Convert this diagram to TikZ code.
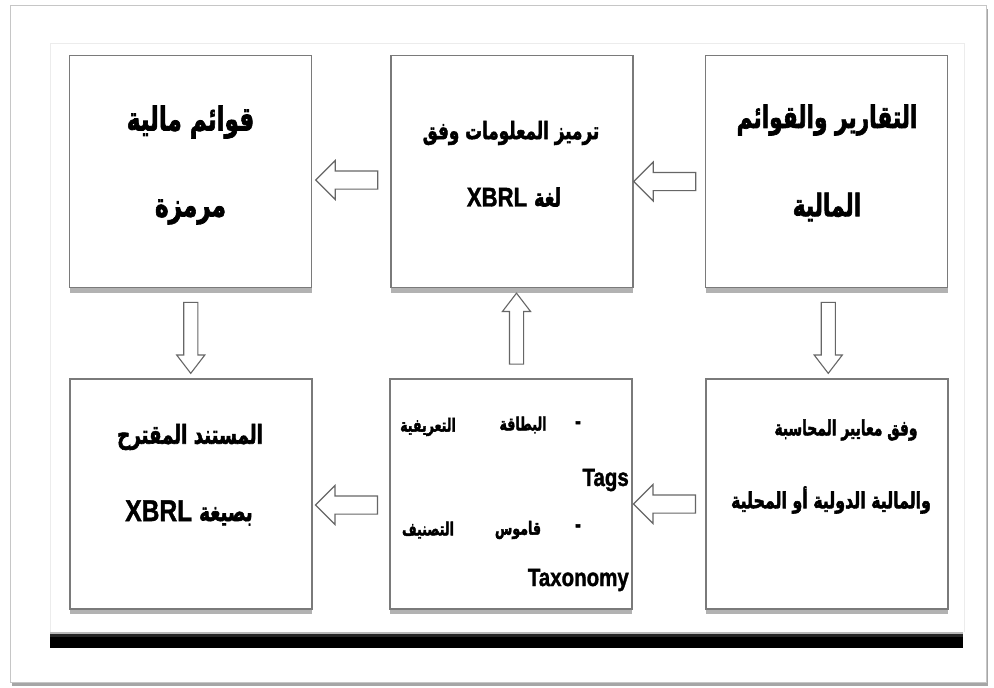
\documentclass[tikz,border=0pt]{standalone}
\usepackage{fontspec}
\usepackage{graphicx}
\usetikzlibrary{shapes.arrows,shadows,calc}
\TeXXeTstate=1
\newfontfamily\arabicfont[Script=Arabic, BoldFeatures={FakeBold=2.5}]{DejaVu Sans}
\newfontfamily\latinfont[BoldFeatures={FakeBold=1.5}]{Liberation Sans}
% \artext{size}{xscale}{text}
\newcommand{\artext}[3]{\scalebox{#2}[1]{\fontsize{#1}{#1}\arabicfont\bfseries #3}}
\newcommand{\xbrl}[1]{\scalebox{0.82}[1]{\latinfont\bfseries\fontsize{#1}{#1}\selectfont XBRL}}
\newcommand{\lat}[2]{\scalebox{0.82}[1]{\latinfont\bfseries\fontsize{#1}{#1}\selectfont #2}}
\definecolor{boxgray}{HTML}{7A7A7A}
\definecolor{arrowgray}{HTML}{666666}
\tikzset{
  frame/.style={draw=gray!45, line width=0.8pt, fill=white, inner sep=0pt,
    drop shadow={shadow xshift=2pt, shadow yshift=-3pt, opacity=0.35, fill=black}},
  box/.style={draw=boxgray, line width=1.4pt, fill=white, inner sep=0pt,
    minimum width=242pt, minimum height=232pt,
    drop shadow={shadow xshift=0pt, shadow yshift=-5pt, opacity=0.3, fill=black}},
  harrow/.style={single arrow, draw=arrowgray, line width=1.1pt, fill=white,
    inner sep=8.5pt, minimum height=62pt,
    single arrow head extend=10.5pt, single arrow tip angle=90},
  varrow/.style={single arrow, draw=arrowgray, line width=1.1pt, fill=white,
    inner sep=6.5pt, minimum height=71pt,
    single arrow head extend=7pt, single arrow tip angle=75},
  txt/.style={inner sep=0pt}
}
\begin{document}
\begin{tikzpicture}[x=1pt,y=-1pt]
\useasboundingbox (0,0) rectangle (994,688);
\fill[white] (0,0) rectangle (994,688);
% outer frame
\node[frame, minimum width=976pt, minimum height=677pt] (outer) at (498,344) {};
% faint inner frame
\draw[gray!15, line width=0.8pt] (50,632) -- (50,43) -- (964,43) -- (964,632);
% boxes
\node[box] (tl) at (190.5,171.5) {};
\node[box] (tm) at (512,171.5) {};
\node[box] (tr) at (826.5,171.5) {};
\node[box, minimum height=230pt] (bl) at (191,494) {};
\node[box, minimum height=230pt] (bm) at (511,494) {};
\node[box, minimum height=230pt] (br) at (827,494) {};
% block arrows
\node[harrow, shape border rotate=180, yshift=-8.5pt] (a1) at ($(tl.east)!0.5!(tm.west)$) {};
\node[harrow, shape border rotate=180, yshift=-10pt] (a2) at ($(tm.east)!0.5!(tr.west)$) {};
\node[harrow, shape border rotate=180, yshift=-11pt] (a3) at ($(bl.east)!0.5!(bm.west)$) {};
\node[harrow, shape border rotate=180, yshift=-10pt] (a4) at ($(bm.east)!0.5!(br.west)$) {};
\node[varrow, shape border rotate=270] (a5) at ($(tl.south)!0.5!(bl.north)$) {};
\node[varrow, shape border rotate=90, xshift=5pt] (a6) at ($(bm.north)!0.5!(tm.south)$) {};
\node[varrow, shape border rotate=270, xshift=1.5pt] (a7) at ($(tr.south)!0.5!(br.north)$) {};
% texts top row
\node[txt] (tl1) at (190.5,122) {\artext{33}{0.7}{\beginR قوائم مالية\endR}};
\node[txt] (tl2) at (190.5,212) {\artext{33}{0.7}{\beginR مرمزة\endR}};
\node[txt] (tm1) at (511,133) {\artext{24}{0.7}{\beginR ترميز المعلومات وفق\endR}};
\node[txt] (tm2) at (514,197) {\xbrl{27}\hspace{7pt}\artext{25}{0.7}{\beginR لغة\endR}};
\node[txt] (tr1) at (827,120) {\artext{31}{0.7}{\beginR التقارير والقوائم\endR}};
\node[txt] (tr2) at (827,207) {\artext{31}{0.7}{\beginR المالية\endR}};
% texts bottom row
\node[txt] (br1) at (846,430) {\artext{21}{0.66}{\beginR وفق معايير المحاسبة\endR}};
\node[txt] (br2) at (831,500) {\artext{22}{0.72}{\beginR والمالية الدولية أو المحلية\endR}};
\node[txt] (bl1) at (190,437) {\artext{26}{0.7}{\beginR المستند المقترح\endR}};
\node[txt] (bl2) at (189,513) {\xbrl{30}\hspace{7pt}\artext{26}{0.7}{\beginR بصيغة\endR}};
% middle bottom box
\node[txt] (d1) at (578,425) {\artext{20}{0.7}{-}};
\node[txt] (w1) at (523,425) {\artext{18}{0.7}{\beginR البطاقة\endR}};
\node[txt] (w2) at (428,427) {\artext{18}{0.7}{\beginR التعريفية\endR}};
\node[txt, anchor=east] (tags) at (629,480) {\lat{25}{Tags}};
\node[txt] (d2) at (578,528) {\artext{20}{0.7}{-}};
\node[txt] (w3) at (518,530) {\artext{18}{0.7}{\beginR قاموس\endR}};
\node[txt] (w4) at (428,530) {\artext{18}{0.7}{\beginR التصنيف\endR}};
\node[txt, anchor=east] (taxo) at (629,580) {\lat{25}{Taxonomy}};
% bottom black bar
\fill[gray!55] (50,632) rectangle (963,634);
\fill[gray!30!black] (50,634) rectangle (963,637);
\fill[black] (50,637) rectangle (963,648);
\end{tikzpicture}
\end{document}
